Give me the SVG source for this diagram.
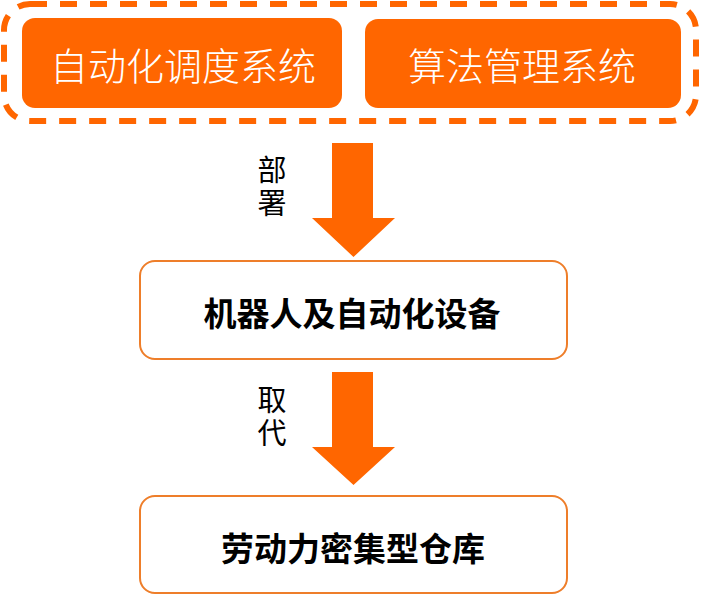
<svg xmlns="http://www.w3.org/2000/svg" width="705" height="595" viewBox="0 0 705 595">
<style>
.sys{fill:#ff6600;}
.systxt{fill:#ffffff;font-family:"Noto Sans CJK SC",sans-serif;font-size:38px;font-weight:300;text-anchor:middle;dominant-baseline:central;}
.box{fill:#ffffff;stroke:#ee7e2a;stroke-width:2;}
.boxtxt{fill:#000000;font-family:"Noto Sans CJK SC",sans-serif;font-size:33px;font-weight:700;text-anchor:middle;dominant-baseline:central;}
.lbl{fill:#000000;font-family:"Noto Sans CJK SC",sans-serif;font-size:29px;font-weight:400;text-anchor:middle;writing-mode:vertical-rl;letter-spacing:4px;}
.arrow{fill:#ff6600;}
</style>
<rect x="4" y="4" width="692" height="117" rx="26" fill="none" stroke="#ff6600" stroke-width="6" stroke-dasharray="17 13"/>
<g id="node-dispatch">
<rect class="sys" x="22" y="18" width="320" height="90" rx="13"/>
<text class="systxt" x="183" y="63">自动化调度系统</text>
</g>
<g id="node-algo">
<rect class="sys" x="365" y="19" width="316" height="89" rx="13"/>
<text class="systxt" x="522" y="63">算法管理系统</text>
</g>
<g id="node-robots">
<rect class="box" x="140" y="261" width="427" height="98" rx="15"/>
<text class="boxtxt" x="352" y="312">机器人及自动化设备</text>
</g>
<g id="node-warehouse">
<rect class="box" x="140" y="496" width="427" height="97" rx="15"/>
<text class="boxtxt" x="353" y="547">劳动力密集型仓库</text>
</g>
<g id="connectors">
<polygon class="arrow" points="332,143 373,143 373,218 395,218 353.5,257 312,218 332,218"/>
<text class="lbl" x="272" y="188">部署</text>
<polygon class="arrow" points="332,372 373,372 373,447 395,447 353.5,485 312,447 332,447"/>
<text class="lbl" x="272" y="418">取代</text>
</g>
</svg>
